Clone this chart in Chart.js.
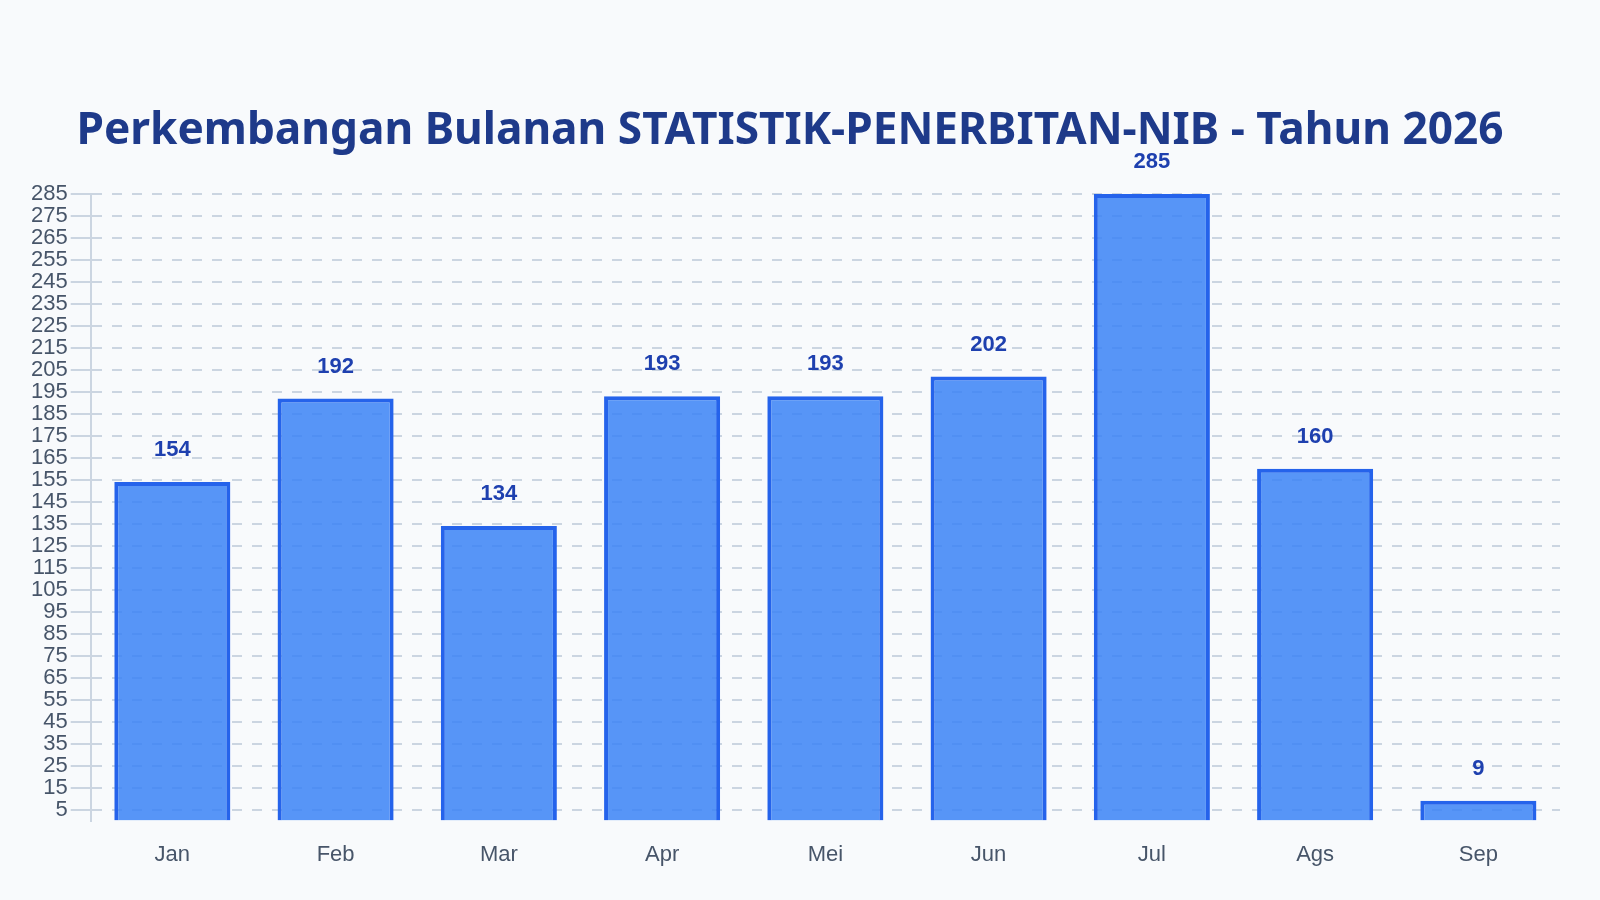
<!DOCTYPE html>
<html lang="id">
<head>
<meta charset="utf-8">
<title>Perkembangan Bulanan STATISTIK-PENERBITAN-NIB</title>
<script src="https://cdn.jsdelivr.net/npm/chart.js@4.4.1/dist/chart.umd.min.js"></script>
<style>
    html, body { margin: 0; padding: 0; background: #f8fafc; }
    #wrap { width: 1600px; height: 900px; position: relative; }
</style>
</head>
<body>
<div id="wrap"><canvas id="chartNib"></canvas></div>
<script>
// Data
const bulan = ['Jan', 'Feb', 'Mar', 'Apr', 'Mei', 'Jun', 'Jul', 'Ags', 'Sep'];
const jumlahNib = [154, 192, 134, 193, 193, 202, 285, 160, 9];
const yTicks = [5, 15, 25, 35, 45, 55, 65, 75, 85, 95, 105, 115, 125, 135, 145, 155, 165, 175, 185, 195, 205, 215, 225, 235, 245, 255, 265, 275, 285];

// value labels above each bar
const barLabels = {
    id: 'barLabels',
    afterDatasetsDraw(chart) {
        const ctx = chart.ctx;
        const meta = chart.getDatasetMeta(0);
        ctx.save();
        ctx.font = 'bold 22px "Liberation Sans", Arial, sans-serif';
        ctx.fillStyle = '#1e40af';
        ctx.textAlign = 'center';
        ctx.textBaseline = 'middle';
        meta.data.forEach(function(bar, i) {
            ctx.fillText(String(jumlahNib[i]), bar.x, bar.y - 32);
        });
        ctx.restore();
    }
};

new Chart(document.getElementById('chartNib'), {
    type: 'bar',
    data: {
        labels: bulan,
        datasets: [{
            label: 'Penerbitan NIB',
            data: jumlahNib,
            backgroundColor: 'rgba(59, 130, 246, 0.85)',
            borderColor: '#2563eb',
            borderWidth: 4,
            borderSkipped: 'bottom',
            barPercentage: 0.79,
            categoryPercentage: 0.9
        }]
    },
    options: {
        responsive: true,
        maintainAspectRatio: false,
        animation: false,
        layout: { padding: { top: 40, left: 20, right: 40, bottom: 19 } },
        plugins: {
            legend: { display: false },
            tooltip: { enabled: false },
            title: {
                display: true,
                text: 'Perkembangan Bulanan STATISTIK-PENERBITAN-NIB - Tahun 2026',
                color: '#1e3a8a',
                font: { family: '"Noto Sans", sans-serif', size: 44.2, weight: 'bold' },
                padding: { top: 65, bottom: 36 }
            }
        },
        scales: {
            x: {
                grid: { display: false },
                border: { display: false },
                ticks: {
                    color: '#475569',
                    font: { family: '"Liberation Sans", Arial, sans-serif', size: 22 },
                    padding: 13
                }
            },
            y: {
                min: 0,
                max: 285,
                afterBuildTicks: function(axis) {
                    axis.ticks = yTicks.map(function(v) { return { value: v }; });
                },
                afterFit: function(axis) {
                    axis.width += 8;
                },
                grid: {
                    color: '#cbd5e1',
                    lineWidth: 2,
                    tickLength: 20,
                    drawTicks: true
                },
                border: { display: true, color: '#cbd5e1', width: 2, dash: [10, 10] },
                ticks: {
                    color: '#475569',
                    font: { family: '"Liberation Sans", Arial, sans-serif', size: 22 },
                    padding: 3,
                    autoSkip: false
                }
            }
        }
    },
    plugins: [barLabels]
});
</script>
</body>
</html>
